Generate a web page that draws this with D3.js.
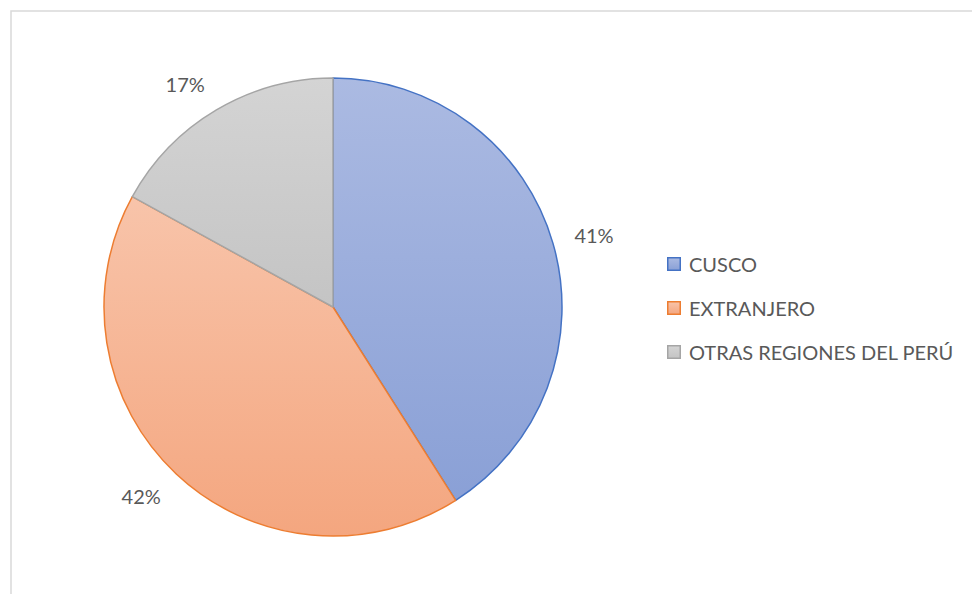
<!DOCTYPE html>
<html>
<head>
<meta charset="utf-8">
<script src="https://cdn.jsdelivr.net/npm/d3@7"></script>
<style>
  html, body { margin: 0; padding: 0; background: #fff; }
  svg { display: block; }
</style>
</head>
<body>
<svg id="chart" width="972" height="594"></svg>
<script>
// Origen de los visitantes (porcentaje)
const categories = ["CUSCO", "EXTRANJERO", "OTRAS REGIONES DEL PERÚ"];
const values = [41, 42, 17];
const labels = ["41%", "42%", "17%"];

const strokeColors = ["#4472c4", "#ed7d31", "#a5a5a5"];
const gradTop = ["#abbae2", "#f8c4aa", "#d4d4d4"];
const gradBottom = ["#8aa0d6", "#f4a67f", "#c4c4c4"];

const svg = d3.select("#chart");
const W = 972, H = 594;
const cx = 333, cy = 307, R = 229;
const fontFam = "Lato, 'Open Sans', sans-serif";
const textColor = "#595959";

// chart area frame
svg.append("rect")
  .attr("x", 11).attr("y", 11)
  .attr("width", W + 10).attr("height", H + 10)
  .attr("fill", "#fff")
  .attr("stroke", "#d9d9d9")
  .attr("stroke-width", 1.5);

const defs = svg.append("defs");
categories.forEach((c, i) => {
  const g = defs.append("linearGradient")
    .attr("id", "grad" + i)
    .attr("x1", 0).attr("y1", 0).attr("x2", 0).attr("y2", 1);
  g.append("stop").attr("offset", "0%").attr("stop-color", gradTop[i]);
  g.append("stop").attr("offset", "100%").attr("stop-color", gradBottom[i]);
});

const data = categories.map((c, i) => ({ name: c, value: values[i], label: labels[i], idx: i }));

const pie = d3.pie().sort(null).value(d => d.value);
const arcs = pie(data);
const arc = d3.arc().innerRadius(0).outerRadius(R);

const g = svg.append("g").attr("transform", `translate(${cx},${cy})`);

g.selectAll("path.slice")
  .data(arcs)
  .join("path")
  .attr("class", "slice")
  .attr("d", arc)
  .attr("fill", d => `url(#grad${d.data.idx})`)
  .attr("stroke", d => strokeColors[d.data.idx])
  .attr("stroke-width", 1.5)
  .attr("stroke-linejoin", "round");

// outside-end data labels: anchor past the rim, then push the text box outward
const labelGap = 22, halfW = 20, halfH = 8;
function labelPos(d) {
  const a = (d.startAngle + d.endAngle) / 2;
  const dx = Math.sin(a), dy = -Math.cos(a);
  const r = R + labelGap;
  return [r * dx + Math.sign(dx) * halfW, r * dy + dy * halfH];
}

g.selectAll("text.lbl")
  .data(arcs)
  .join("text")
  .attr("class", "lbl")
  .attr("transform", d => `translate(${labelPos(d)})`)
  .attr("text-anchor", "middle")
  .attr("dominant-baseline", "central")
  .attr("font-family", fontFam)
  .attr("font-size", 20)
  .attr("fill", textColor)
  .text(d => d.data.label);

// legend
const legend = svg.append("g").attr("transform", "translate(667,264)");
const rowH = 44;
const item = legend.selectAll("g.item")
  .data(data)
  .join("g")
  .attr("class", "item")
  .attr("transform", (d, i) => `translate(0,${i * rowH})`);

item.append("rect")
  .attr("x", 0.75).attr("y", -6.25)
  .attr("width", 12.5).attr("height", 12.5)
  .attr("fill", d => `url(#grad${d.idx})`)
  .attr("stroke", d => strokeColors[d.idx])
  .attr("stroke-width", 1.5);

item.append("text")
  .attr("x", 22)
  .attr("y", 0)
  .attr("dominant-baseline", "central")
  .attr("font-family", fontFam)
  .attr("font-size", 20)
  .attr("fill", textColor)
  .text(d => d.name);
</script>
</body>
</html>
